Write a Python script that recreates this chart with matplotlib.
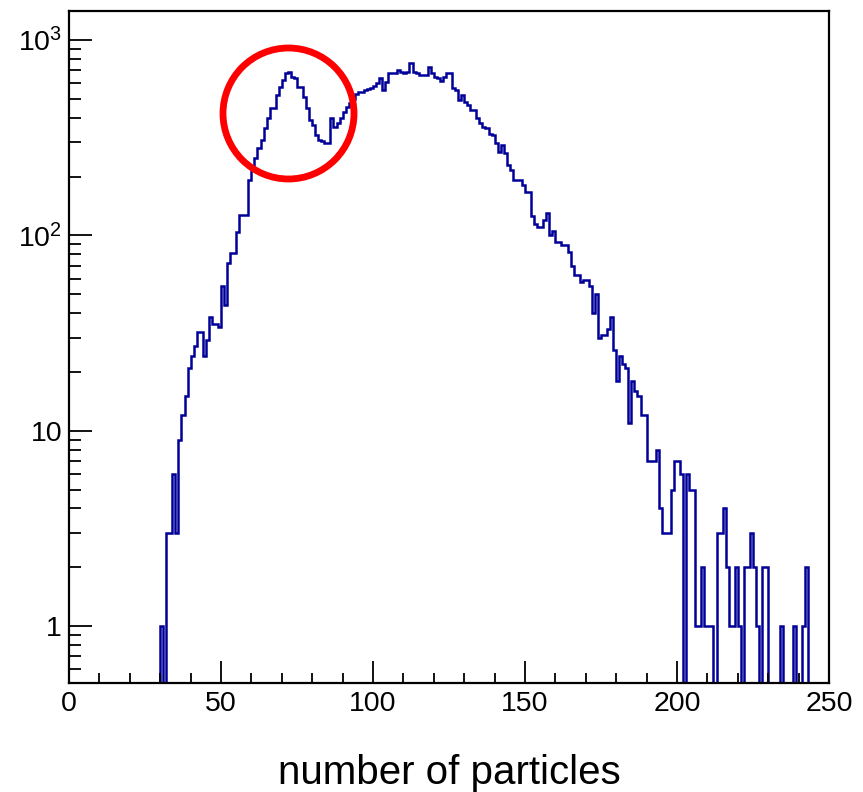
import numpy as np
import matplotlib
matplotlib.use("Agg")
import matplotlib.pyplot as plt
from matplotlib.patches import Circle
from matplotlib.ticker import FixedLocator, FixedFormatter, LogLocator, MultipleLocator, NullFormatter

plt.rcParams["font.family"] = ["Liberation Sans", "DejaVu Sans"]
plt.rcParams["mathtext.fontset"] = "custom"
plt.rcParams["mathtext.rm"] = "Liberation Sans"

# multiplicity histogram, 1-particle bins starting at 30
first_bin = 30
counts = [
    1, 0, 3, 3, 6, 3, 9, 12, 15, 21,                      # 30-39
    24, 27, 32, 32, 24, 29, 38, 35, 35, 34,               # 40-49
    55, 44, 72, 81, 81, 104, 127, 127, 127, 192,          # 50-59
    224, 249, 280, 309, 355, 399, 449, 449, 523, 575,     # 60-69
    624, 680, 690, 650, 640, 575, 575, 511, 449, 389,     # 70-79
    367, 327, 309, 305, 296, 296, 399, 360, 376, 400,     # 80-89
    428, 455, 475, 500, 530, 545, 545, 555, 560, 570,     # 90-99
    585, 600, 637, 555, 612, 674, 674, 674, 702, 688,     # 100-109
    674, 688, 760, 688, 674, 662, 662, 662, 730, 674,     # 110-119
    649, 637, 620, 649, 674, 674, 566, 555, 493, 523,     # 120-129
    483, 465, 438, 438, 397, 374, 360, 353, 330, 327,     # 130-139
    296, 268, 290, 263, 229, 216, 192, 192, 192, 181,     # 140-149
    167, 167, 125, 115, 111, 111, 120, 130, 100, 105,     # 150-159
    93, 93, 89, 89, 82, 70, 63, 63, 58, 59,               # 160-169
    59, 55, 40, 50, 30, 31, 31, 33, 38, 26,               # 170-179
    18, 24, 22, 21, 11, 18, 16, 15, 12, 12,               # 180-189
    7, 7, 7, 8, 4, 3, 3, 3, 5, 7,                         # 190-199
    7, 6, 0, 6, 5, 5, 1, 1, 2, 1,                         # 200-209
    1, 1, 0, 3, 3, 4, 2, 1, 1, 2,                         # 210-219
    1, 0, 2, 2, 3, 2, 1, 0, 2, 2,                         # 220-229
    0, 0, 0, 0, 1, 0, 0, 0, 1, 0,                         # 230-239
    0, 1, 2,                                              # 240-242
]
x_min, x_max = 0, 250
y_min, y_max = 0.511, 1408

x_ticks = [0, 50, 100, 150, 200, 250]
y_ticks = [1, 10, 100, 1000]
y_tick_labels = ["1", "10", r"$\mathregular{10^{2}}$", r"$\mathregular{10^{3}}$"]
x_label = "number of particles"

hist = np.zeros(x_max - x_min)
hist[first_bin:first_bin + len(counts)] = counts
edges = np.arange(x_min, x_max + 1)

fig = plt.figure(figsize=(8.63, 7.92), dpi=100)
ax = fig.add_axes([69 / 863, 1 - 683 / 792, 760 / 863, 672 / 792])

# empty bins drop below the visible range on the log axis
draw = np.where(hist > 0, hist, 1e-3)
ax.stairs(draw, edges, color="#000099", linewidth=1.8, baseline=None)

ax.set_yscale("log")
ax.set_xlim(x_min, x_max)
ax.set_ylim(y_min, y_max)

ax.xaxis.set_major_locator(FixedLocator(x_ticks))
ax.xaxis.set_minor_locator(MultipleLocator(10))
ax.yaxis.set_major_locator(FixedLocator(y_ticks))
ax.yaxis.set_major_formatter(FixedFormatter(y_tick_labels))
ax.yaxis.set_minor_locator(LogLocator(base=10, subs=np.arange(2, 10)))
ax.yaxis.set_minor_formatter(NullFormatter())

ax.tick_params(axis="both", which="both", direction="in", top=False, right=False,
               width=1.3, labelsize=20.5)
ax.tick_params(axis="x", which="major", length=16, pad=6)
ax.tick_params(axis="x", which="minor", length=7.5)
ax.tick_params(axis="y", which="major", length=16.5, pad=5)
ax.tick_params(axis="y", which="minor", length=8.5)
for sp in ax.spines.values():
    sp.set_linewidth(1.6)

ax.set_xlabel(x_label, fontsize=29)
ax.xaxis.set_label_coords(0.5, -0.105)

# highlight ring around the low-multiplicity bump
ring = Circle((2.885, (792 - 113.5) / 100), 0.655, transform=fig.dpi_scale_trans,
              fill=False, edgecolor="#ff0000", linewidth=4.9, clip_on=False)
fig.patches.append(ring)

fig.savefig("out.png", dpi=100)
